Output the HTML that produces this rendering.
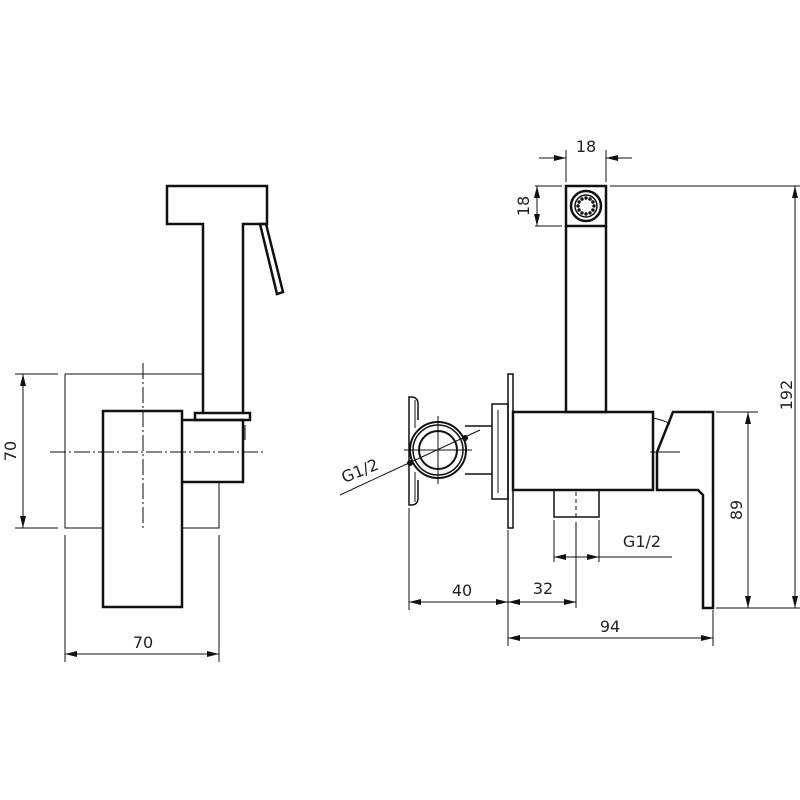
<!DOCTYPE html>
<html><head><meta charset="utf-8"><style>html,body{margin:0;padding:0;background:#fff}svg{display:block}text{font-family:"DejaVu Sans","Liberation Sans",sans-serif;font-size:16px;fill:#222}</style></head>
<body>
<svg width="800" height="800" viewBox="0 0 800 800" xmlns="http://www.w3.org/2000/svg">
<defs>
<marker id="a" viewBox="0 0 12 6" refX="12" refY="3" markerWidth="12" markerHeight="6" markerUnits="userSpaceOnUse" orient="auto"><path d="M0,0 L12,3 L0,6z" fill="#111"/></marker>
</defs>
<g fill="none" stroke="#111" stroke-width="1">
<polyline points="65,374 203,374"/>
<polyline points="65,374 65,528 103,528"/>
<polyline points="182,528 219,528 219,482"/>
<line x1="143" y1="363" x2="143" y2="528" stroke-dasharray="16,3,2,3"/>
<line x1="50" y1="452" x2="265" y2="452" stroke-dasharray="16,3,2,3"/>
<line x1="15" y1="374" x2="58" y2="374"/>
<line x1="15" y1="528" x2="58" y2="528"/>
<line x1="23" y1="450" x2="23" y2="374" marker-end="url(#a)"/>
<line x1="23" y1="450" x2="23" y2="528" marker-end="url(#a)"/>
<line x1="65" y1="535" x2="65" y2="662"/>
<line x1="219" y1="535" x2="219" y2="662"/>
<line x1="140" y1="654" x2="65" y2="654" marker-end="url(#a)"/>
<line x1="140" y1="654" x2="219" y2="654" marker-end="url(#a)"/>
</g>
<g fill="none" stroke="#111" stroke-width="2.5" stroke-linejoin="miter">
<polyline points="203,412 203,224 167,224 167,186 267,186 267,224 243,224 243,412"/>
<polygon points="260,224 266,224 283,292 277,294"/>
<rect x="103" y="411" width="79" height="196"/>
<polyline points="182,420 243,420 243,482 182,482"/>
<rect x="195" y="413" width="55" height="7"/>
</g>
<line x1="245" y1="425" x2="245" y2="440" stroke="#111" stroke-width="1"/>

<g fill="none" stroke="#111" stroke-width="2.5">
<rect x="566" y="186" width="40" height="40"/>
<polyline points="566,226 566,412 606,412 606,226"/>
<rect x="513" y="412" width="140" height="78"/>
<rect x="508" y="374" width="5" height="154" stroke-width="1.5"/>
<rect x="492" y="404" width="16" height="95" stroke-width="1.5"/>
<line x1="498" y1="410" x2="498" y2="493" stroke-width="1"/>
<rect x="554" y="490" width="45" height="27" stroke-width="1.5"/>
<polygon points="673,412 713,412 713,608 703,608 703,495 698,490 657,490 657,452"/>
<line x1="653" y1="452" x2="653" y2="490" stroke-width="1"/>
<path d="M653,418 Q664,420 670,424" stroke-width="1"/>
<line x1="465" y1="426" x2="492" y2="426" stroke-width="1.5"/>
<line x1="465" y1="474" x2="492" y2="474" stroke-width="1.5"/>
<circle cx="438" cy="450" r="28" stroke-width="2"/>
<circle cx="438" cy="450" r="25" stroke-width="1.5"/>
<circle cx="438" cy="450" r="19" stroke-width="2"/>
<path d="M418,420 L418,404 Q418,397 411,397 L409,397 L409,505 L411,505 Q418,505 418,498 L418,480" stroke-width="1.5"/>
<line x1="415" y1="400" x2="415" y2="428" stroke-width="1"/>
<line x1="415" y1="472" x2="415" y2="502" stroke-width="1"/>
<circle cx="586" cy="206" r="15" stroke-width="2.5"/>
<circle cx="586" cy="206" r="11" stroke-width="1.5"/>
</g>
<g fill="#111">
<circle cx="594" cy="206" r="1.7"/><circle cx="592.9" cy="210" r="1.7"/><circle cx="590" cy="212.9" r="1.7"/><circle cx="586" cy="214" r="1.7"/><circle cx="582" cy="212.9" r="1.7"/><circle cx="579.1" cy="210" r="1.7"/><circle cx="578" cy="206" r="1.7"/><circle cx="579.1" cy="202" r="1.7"/><circle cx="582" cy="199.1" r="1.7"/><circle cx="586" cy="198" r="1.7"/><circle cx="590" cy="199.1" r="1.7"/><circle cx="592.9" cy="202" r="1.7"/>
<circle cx="410" cy="463" r="3"/><circle cx="465" cy="438" r="3"/>
</g>
<g fill="none" stroke="#111" stroke-width="1">
<line x1="438" y1="416" x2="438" y2="484"/>
<line x1="404" y1="450" x2="472" y2="450"/>
<line x1="576" y1="492" x2="576" y2="520" stroke-dasharray="4,3"/>
<line x1="650" y1="452" x2="680" y2="452"/>
<line x1="340" y1="495" x2="480" y2="430"/>
<line x1="566" y1="150" x2="566" y2="182"/>
<line x1="606" y1="150" x2="606" y2="182"/>
<line x1="539" y1="158" x2="566" y2="158" marker-end="url(#a)"/>
<line x1="632" y1="158" x2="606" y2="158" marker-end="url(#a)"/>
<line x1="535" y1="186" x2="562" y2="186"/>
<line x1="535" y1="226" x2="562" y2="226"/>
<line x1="537" y1="206" x2="537" y2="186" marker-end="url(#a)"/>
<line x1="537" y1="206" x2="537" y2="226" marker-end="url(#a)"/>
<line x1="610" y1="186" x2="800" y2="186"/>
<line x1="716" y1="608" x2="800" y2="608"/>
<line x1="795" y1="400" x2="795" y2="186" marker-end="url(#a)"/>
<line x1="795" y1="400" x2="795" y2="608" marker-end="url(#a)"/>
<line x1="716" y1="412" x2="758" y2="412"/>
<line x1="748" y1="510" x2="748" y2="412" marker-end="url(#a)"/>
<line x1="748" y1="510" x2="748" y2="608" marker-end="url(#a)"/>
<line x1="508" y1="530" x2="508" y2="646"/>
<line x1="713" y1="610" x2="713" y2="646"/>
<line x1="610" y1="638" x2="508" y2="638" marker-end="url(#a)"/>
<line x1="610" y1="638" x2="713" y2="638" marker-end="url(#a)"/>
<line x1="409" y1="508" x2="409" y2="610"/>
<line x1="576" y1="522" x2="576" y2="608"/>
<line x1="460" y1="602" x2="409" y2="602" marker-end="url(#a)"/>
<line x1="460" y1="602" x2="508" y2="602" marker-end="url(#a)"/>
<line x1="542" y1="602" x2="508" y2="602" marker-end="url(#a)"/>
<line x1="542" y1="602" x2="576" y2="602" marker-end="url(#a)"/>
<line x1="554" y1="520" x2="554" y2="562"/>
<line x1="599" y1="520" x2="599" y2="562"/>
<line x1="576" y1="557" x2="554" y2="557" marker-end="url(#a)"/>
<line x1="576" y1="557" x2="599" y2="557" marker-end="url(#a)"/>
<line x1="599" y1="557" x2="672" y2="557"/>
</g>
<text x="143" y="648" text-anchor="middle">70</text>
<text transform="translate(16,451) rotate(-90)" text-anchor="middle">70</text>
<text x="586" y="152" text-anchor="middle">18</text>
<text transform="translate(529,206) rotate(-90)" text-anchor="middle">18</text>
<text transform="translate(792,395) rotate(-90)" text-anchor="middle">192</text>
<text transform="translate(742,510) rotate(-90)" text-anchor="middle">89</text>
<text x="610" y="632" text-anchor="middle">94</text>
<text x="462" y="596" text-anchor="middle">40</text>
<text x="543" y="594" text-anchor="middle">32</text>
<text x="642" y="547" text-anchor="middle">G1/2</text>
<text transform="translate(362,476) rotate(-22)" text-anchor="middle">G1/2</text>
</svg>
</body></html>
